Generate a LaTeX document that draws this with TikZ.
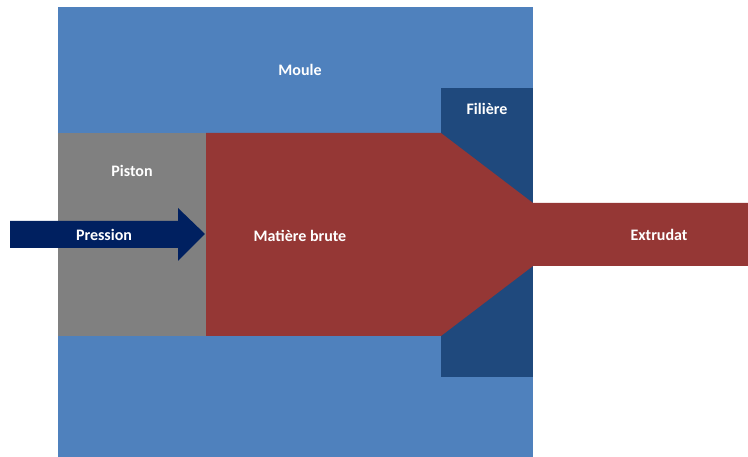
\documentclass[tikz,border=0pt]{standalone}
\usepackage{fontspec}
\setmainfont{Carlito}
\definecolor{moule}{HTML}{4F81BD}
\definecolor{piston}{HTML}{808080}
\definecolor{matiere}{HTML}{953735}
\definecolor{filiere}{HTML}{1F497D}
\definecolor{navy}{HTML}{002060}
\begin{document}
\begin{tikzpicture}[x=1pt,y=-1pt,
  lbl/.style={text=white,font=\fontsize{16}{18}\selectfont\bfseries,inner sep=0pt}]
\useasboundingbox (0,0) rectangle (748,457);
\fill[white] (0,0) rectangle (748,457);
% Moule
\fill[moule] (58,7) rectangle (533,457);
% Filiere
\fill[filiere] (441,88) rectangle (533,377);
% Piston
\fill[piston] (58,133) rectangle (206,336);
% Matiere + extrudat
\fill[matiere] (206,133) -- (441,133) -- (533,203) -- (748,203) -- (748,266)
  -- (533,266) -- (441,336) -- (206,336) -- cycle;
% Arrow
\fill[navy] (10,221) -- (178,221) -- (178,208) -- (205,234) -- (178,261)
  -- (178,248) -- (10,248) -- cycle;
\node[lbl] (moule) at (300,70) {Moule};
\node[lbl] (filiere) at (487,109) {Filière};
\node[lbl] (piston) at (132,171) {Piston};
\node[lbl] (pression) at (104,235) {Pression};
\node[lbl] (matiere) at (300,236) {Matière brute};
\node[lbl] (extrudat) at (659,235) {Extrudat};
\end{tikzpicture}
\end{document}
